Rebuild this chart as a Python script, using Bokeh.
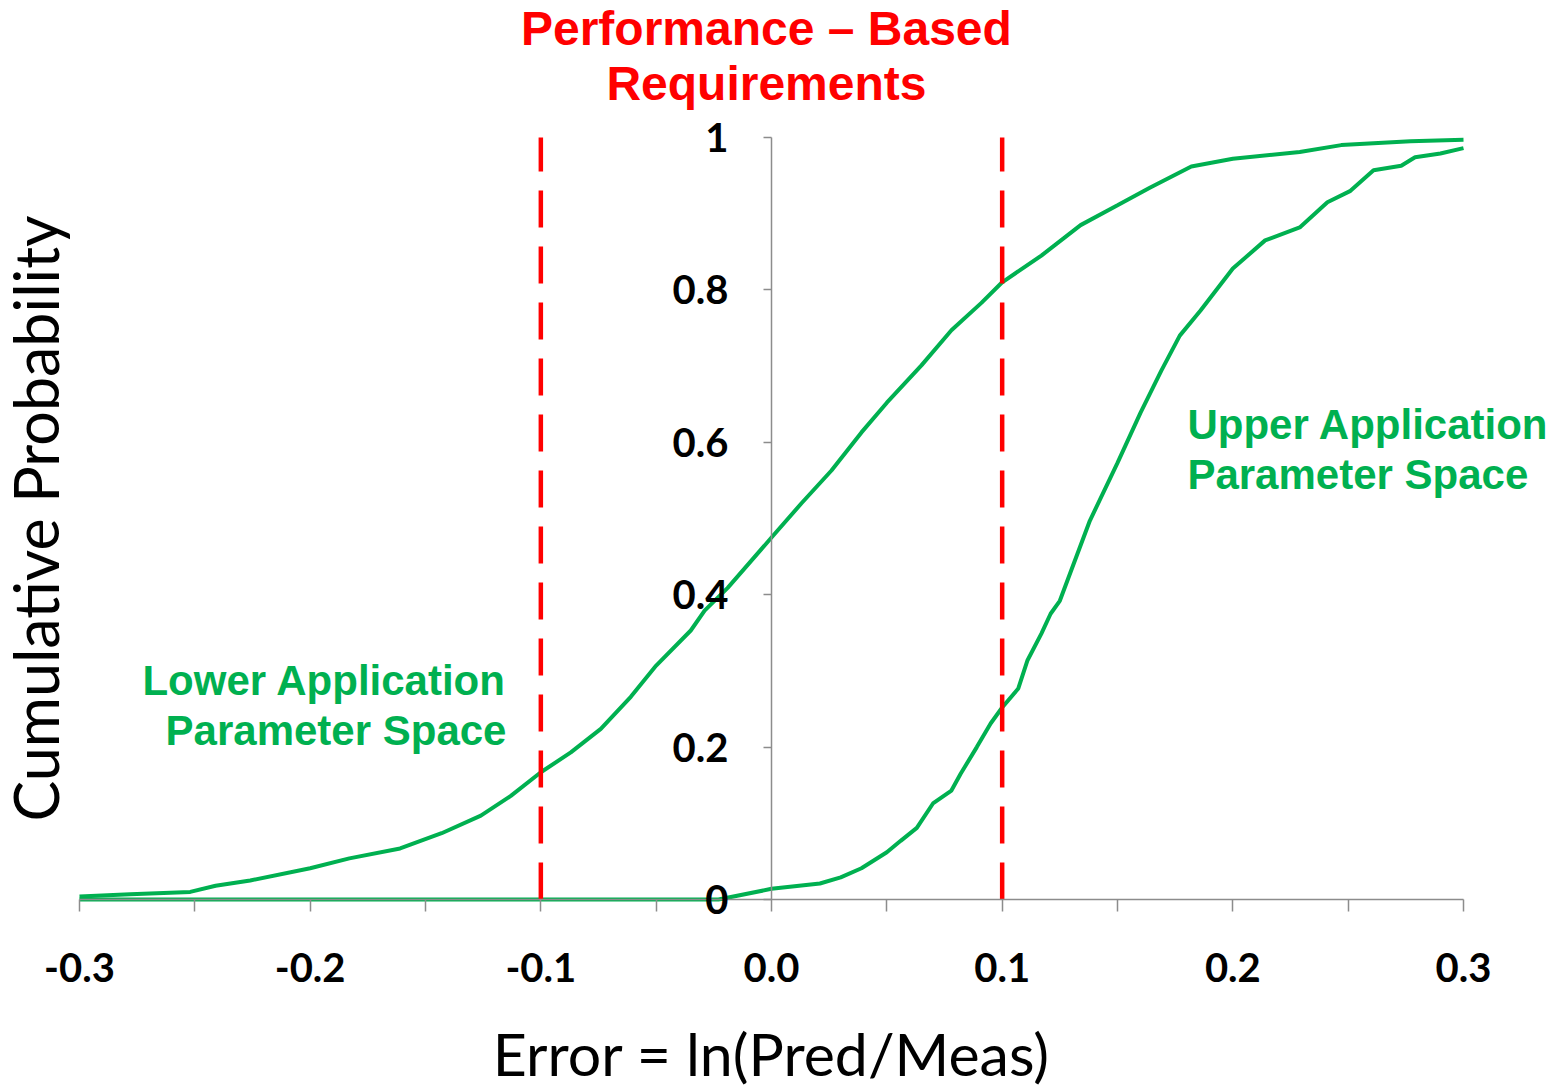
from bokeh.plotting import figure
from bokeh.models import LinearAxis, Range1d, Label, FixedTicker
from bokeh.embed import file_html
from bokeh.resources import INLINE

# ---- data ----
lower_x = [-0.300, -0.278, -0.252, -0.241, -0.226, -0.200, -0.183, -0.161, -0.143, -0.126,
           -0.113, -0.100, -0.087, -0.074, -0.061, -0.050, -0.035, -0.029, -0.019, 0.000,
           0.013, 0.026, 0.039, 0.050, 0.065, 0.078, 0.091, 0.100, 0.117, 0.134,
           0.150, 0.164, 0.182, 0.200, 0.229, 0.247, 0.277, 0.300]
lower_y = [0.004, 0.007, 0.010, 0.018, 0.025, 0.041, 0.054, 0.067, 0.087, 0.110,
           0.136, 0.167, 0.193, 0.224, 0.266, 0.307, 0.353, 0.379, 0.409, 0.475,
           0.520, 0.563, 0.613, 0.652, 0.701, 0.747, 0.783, 0.810, 0.845, 0.885,
           0.911, 0.934, 0.962, 0.972, 0.981, 0.990, 0.995, 0.997]

upper_x = [-0.300, -0.023, 0.000, 0.021, 0.030, 0.039, 0.050, 0.056, 0.063, 0.070,
           0.078, 0.082, 0.089, 0.095, 0.100, 0.107, 0.111, 0.117, 0.121, 0.125,
           0.138, 0.150, 0.160, 0.169, 0.177, 0.186, 0.200, 0.214, 0.229, 0.241,
           0.251, 0.261, 0.273, 0.279, 0.290, 0.300]
upper_y = [0.000, 0.000, 0.014, 0.021, 0.029, 0.041, 0.062, 0.077, 0.094, 0.126,
           0.143, 0.165, 0.200, 0.231, 0.252, 0.277, 0.314, 0.349, 0.375, 0.392,
           0.497, 0.573, 0.639, 0.694, 0.740, 0.773, 0.828, 0.865, 0.882, 0.915,
           0.930, 0.957, 0.963, 0.974, 0.979, 0.986]

req_x = [-0.1, 0.1]

x_ticks = [-0.3, -0.2, -0.1, 0.0, 0.1, 0.2, 0.3]
x_tick_labels = ["-0.3", "-0.2", "-0.1", "0.0", "0.1", "0.2", "0.3"]
x_minor_ticks = [-0.25, -0.15, -0.05, 0.05, 0.15, 0.25]
y_ticks = [0.0, 0.2, 0.4, 0.6, 0.8, 1.0]
y_tick_labels = ["0", "0.2", "0.4", "0.6", "0.8", "1"]

GREEN = "#00B050"
RED = "#FF0000"
AXIS_GRAY = "#8c8c8c"

# The frame spans the whole canvas; the ranges are widened so the data
# area (-0.3..0.3, 0..1) lands where it sits in the reference and the
# texts around it stay inside the drawable area.
W, H = 1560, 1087
p = figure(width=W, height=H,
           x_range=Range1d(-0.33425, 0.34205), y_range=Range1d(-0.24672, 1.17979),
           output_backend="svg", toolbar_location=None,
           x_axis_location=None, y_axis_location=None,
           min_border=0)
p.outline_line_color = None
p.xgrid.visible = False
p.ygrid.visible = False
p.background_fill_color = "white"
p.border_fill_color = "white"

# curves
p.line(lower_x, lower_y, line_color=GREEN, line_width=4)
p.line(upper_x, upper_y, line_color=GREEN, line_width=4)

# requirement limits
p.segment(x0=req_x, y0=[0.0] * len(req_x), x1=req_x, y1=[1.0] * len(req_x),
          line_color=RED, line_width=4.5, line_dash="37 19")

# x axis along y = 0
xa = LinearAxis(fixed_location=0, bounds=(-0.3, 0.3),
                ticker=FixedTicker(ticks=x_ticks, minor_ticks=x_minor_ticks),
                major_label_overrides=dict(zip(x_ticks, x_tick_labels)),
                axis_label="Error = ln(Pred/Meas)")
xa.axis_line_color = AXIS_GRAY
xa.axis_line_width = 1.5
xa.major_tick_line_color = AXIS_GRAY
xa.minor_tick_line_color = AXIS_GRAY
xa.major_tick_line_width = 1.5
xa.minor_tick_line_width = 1.5
xa.major_tick_out = 12
xa.major_tick_in = 0
xa.minor_tick_out = 12
xa.minor_tick_in = 0
xa.major_label_standoff = 42
xa.major_label_text_font = "Lato"
xa.major_label_text_font_style = "bold"
xa.major_label_text_font_size = "40px"
xa.major_label_text_color = "black"
xa.axis_label_standoff = 32
xa.axis_label_text_font = "Lato"
xa.axis_label_text_font_style = "normal"
xa.axis_label_text_font_size = "59px"
xa.axis_label_text_color = "black"
p.add_layout(xa, "below")

# y axis crossing at x = 0
ya = LinearAxis(fixed_location=0, bounds=(0, 1),
                ticker=FixedTicker(ticks=y_ticks, minor_ticks=[]),
                major_label_overrides=dict(zip(y_ticks, y_tick_labels)))
ya.axis_line_color = AXIS_GRAY
ya.axis_line_width = 1.5
ya.major_tick_line_color = AXIS_GRAY
ya.major_tick_line_width = 1.5
ya.major_tick_out = 8
ya.major_tick_in = 0
ya.minor_tick_line_color = None
ya.major_label_standoff = 35
ya.major_label_text_font = "Lato"
ya.major_label_text_font_style = "bold"
ya.major_label_text_font_size = "40px"
ya.major_label_text_color = "black"
p.add_layout(ya, "left")

# y axis title, on an axis placed at the left end of the data area
yl = LinearAxis(fixed_location=-0.3, bounds=(0, 1),
                ticker=FixedTicker(ticks=[], minor_ticks=[]),
                axis_label="Cumulative Probability")
yl.axis_line_color = None
yl.major_tick_line_color = None
yl.minor_tick_line_color = None
yl.axis_label_standoff = 8
yl.axis_label_text_font = "Lato"
yl.axis_label_text_font_style = "normal"
yl.axis_label_text_font_size = "61px"
yl.axis_label_text_color = "black"
p.add_layout(yl, "left")

# red title over the chart
TITLE_X = -0.0022
p.add_layout(Label(x=TITLE_X, y=1.1430, text="Performance \u2013 Based",
                   text_font="Liberation Sans", text_font_style="bold",
                   text_font_size="48px", text_color=RED,
                   text_align="center", text_baseline="alphabetic"))
p.add_layout(Label(x=TITLE_X, y=1.0709, text="Requirements",
                   text_font="Liberation Sans", text_font_style="bold",
                   text_font_size="48px", text_color=RED,
                   text_align="center", text_baseline="alphabetic"))

# green annotations
p.add_layout(Label(x=0.1803, y=0.6233, text="Upper Application",
                   text_font="Liberation Sans", text_font_style="bold",
                   text_font_size="42px", text_color=GREEN,
                   text_align="left", text_baseline="alphabetic"))
p.add_layout(Label(x=0.1803, y=0.5577, text="Parameter Space",
                   text_font="Liberation Sans", text_font_style="bold",
                   text_font_size="42px", text_color=GREEN,
                   text_align="left", text_baseline="alphabetic"))
p.add_layout(Label(x=-0.1149, y=0.2874, text="Lower Application",
                   text_font="Liberation Sans", text_font_style="bold",
                   text_font_size="42px", text_color=GREEN,
                   text_align="right", text_baseline="alphabetic"))
p.add_layout(Label(x=-0.1149, y=0.2218, text="Parameter Space",
                   text_font="Liberation Sans", text_font_style="bold",
                   text_font_size="42px", text_color=GREEN,
                   text_align="right", text_baseline="alphabetic"))

open("out.html", "w").write(file_html(p, INLINE))
